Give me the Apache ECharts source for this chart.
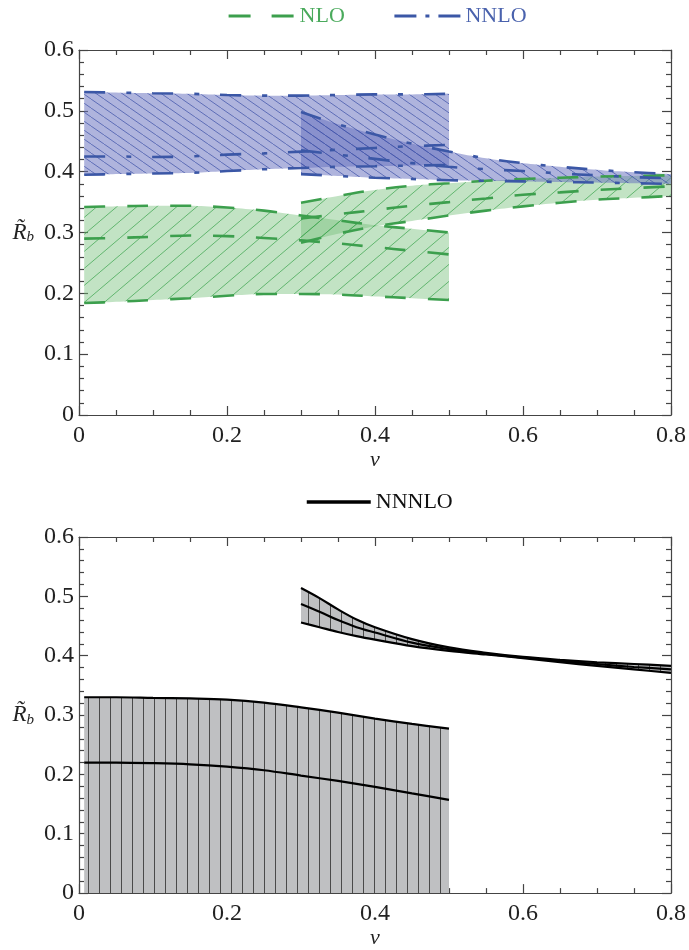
<!DOCTYPE html>
<html>
<head>
<meta charset="utf-8">
<script src="https://cdn.jsdelivr.net/npm/echarts@6/dist/echarts.min.js"></script>
<style>
  html, body { margin: 0; padding: 0; background: #fff; }
  #chart { width: 689px; height: 950px; }
</style>
</head>
<body>
<div id="chart"></div>
<script>
// ---- data ----
const xLow = [0.007, 0.05, 0.1, 0.15, 0.2, 0.25, 0.3, 0.35, 0.4, 0.45, 0.5];
const xHigh = [0.3, 0.35, 0.4, 0.45, 0.5, 0.55, 0.6, 0.65, 0.7, 0.75, 0.8];

// NLO, v < 0.5
const nloUp1 = [0.342, 0.343, 0.344, 0.344, 0.341, 0.336, 0.328, 0.320, 0.312, 0.306, 0.300];
const nloMid1 = [0.290, 0.291, 0.293, 0.295, 0.294, 0.291, 0.287, 0.282, 0.276, 0.270, 0.264];
const nloLo1 = [0.184, 0.186, 0.189, 0.192, 0.196, 0.199, 0.199, 0.198, 0.195, 0.192, 0.189];
// NLO, v > 0.3
const nloUp2 = [0.349, 0.360, 0.370, 0.377, 0.381, 0.385, 0.388, 0.390, 0.392, 0.393, 0.394];
const nloMid2 = [0.323, 0.330, 0.337, 0.344, 0.350, 0.356, 0.362, 0.366, 0.370, 0.373, 0.376];
const nloLo2 = [0.283, 0.298, 0.310, 0.319, 0.328, 0.336, 0.343, 0.349, 0.354, 0.357, 0.360];

// NNLO, v < 0.5
const nnloUp1 = [0.531, 0.530, 0.529, 0.528, 0.526, 0.525, 0.525, 0.526, 0.527, 0.527, 0.528];
const nnloMid1 = [0.425, 0.425, 0.424, 0.425, 0.428, 0.430, 0.433, 0.436, 0.439, 0.442, 0.444];
const nnloLo1 = [0.395, 0.396, 0.397, 0.398, 0.401, 0.404, 0.406, 0.408, 0.409, 0.410, 0.411];
// NNLO, v > 0.3
const nnloUp2 = [0.498, 0.478, 0.461, 0.446, 0.433, 0.422, 0.414, 0.408, 0.403, 0.399, 0.396];
const nnloMid2 = [0.435, 0.428, 0.421, 0.414, 0.408, 0.404, 0.401, 0.397, 0.394, 0.391, 0.389];
const nnloLo2 = [0.396, 0.393, 0.390, 0.388, 0.386, 0.385, 0.384, 0.383, 0.382, 0.381, 0.380];

// NNNLO, v < 0.5 (band reaches down to the axis)
const n3Up1 = [0.330, 0.330, 0.329, 0.328, 0.326, 0.321, 0.313, 0.304, 0.294, 0.285, 0.277];
const n3Mid1 = [0.220, 0.220, 0.219, 0.217, 0.213, 0.207, 0.198, 0.189, 0.179, 0.168, 0.157];
const n3Lo1 = [0, 0, 0, 0, 0, 0, 0, 0, 0, 0, 0];
// NNNLO, v > 0.3
const xN3 = [0.3, 0.325, 0.35, 0.375, 0.4, 0.45, 0.5, 0.55, 0.6, 0.65, 0.7, 0.75, 0.8];
const n3Up2 = [0.514, 0.497, 0.478, 0.461, 0.448, 0.428, 0.414, 0.405, 0.398, 0.393, 0.389, 0.386, 0.383];
const n3Mid2 = [0.487, 0.474, 0.460, 0.448, 0.439, 0.422, 0.411, 0.403, 0.397, 0.391, 0.386, 0.381, 0.377];
const n3Lo2 = [0.456, 0.448, 0.440, 0.433, 0.427, 0.416, 0.408, 0.402, 0.396, 0.389, 0.383, 0.377, 0.371];

// ---- styles ----
const FONT = 'Liberation Serif';
const GREEN = '#3c9f4d';
const BLUE = '#3b57a6';
const dashNLO = [21, 22];
const dashNNLO = [21, 21, 5, 21];
const SMOOTH = 0.35;

function pairs(xs, ys) {
  return xs.map((x, i) => [x, ys[i]]);
}

// hatch tile; dir 1 = '/', -1 = '\', 0 = '|'
function hatch(w, h, bg, lineColor, dir, lw) {
  const c = document.createElement('canvas');
  c.width = w; c.height = h;
  const g = c.getContext('2d');
  g.fillStyle = bg;
  g.fillRect(0, 0, w, h);
  g.strokeStyle = lineColor;
  g.lineWidth = lw;
  g.beginPath();
  if (dir === 0) {
    g.moveTo(0.5, 0); g.lineTo(0.5, h);
  } else {
    for (let k = -1; k <= 1; k++) {
      if (dir > 0) { g.moveTo(k * w, h); g.lineTo(k * w + w, 0); }
      else { g.moveTo(k * w, 0); g.lineTo(k * w + w, h); }
    }
  }
  g.stroke();
  return { image: c, repeat: 'repeat' };
}

const greenFill = hatch(20, 17, 'rgba(117,191,121,0.44)', 'rgba(50,160,70,0.85)', 1, 0.8);
const blueFill = hatch(13, 9, 'rgba(103,114,190,0.53)', 'rgba(55,75,165,0.85)', -1, 0.8);
const grayFill = hatch(11, 4, 'rgb(191,192,194)', '#4a4a4a', 0, 1);

// same kind of bezier smoothing the line series use, sampled in pixel space
function clamp(v, a, b) { return Math.max(Math.min(a, b), Math.min(v, Math.max(a, b))); }
function smoothPts(pts, s) {
  const out = [pts[0]];
  let cp0 = pts[0];
  for (let i = 1; i < pts.length; i++) {
    const p = pts[i], prev = pts[i - 1];
    let cp1 = p, nextCp0 = p;
    if (i < pts.length - 1) {
      const nx = pts[i + 1];
      const vx = nx[0] - prev[0], vy = nx[1] - prev[1];
      const d0 = Math.hypot(p[0] - prev[0], p[1] - prev[1]);
      const d1 = Math.hypot(nx[0] - p[0], nx[1] - p[1]);
      const r = d1 / (d0 + d1);
      cp1 = [clamp(p[0] - vx * s * (1 - r), prev[0], p[0]), clamp(p[1] - vy * s * (1 - r), prev[1], p[1])];
      nextCp0 = [clamp(p[0] + vx * s * r, p[0], nx[0]), clamp(p[1] + vy * s * r, p[1], nx[1])];
    }
    for (let t = 0.1; t <= 1.0001; t += 0.1) {
      const u = 1 - t;
      out.push([
        u * u * u * prev[0] + 3 * u * u * t * cp0[0] + 3 * u * t * t * cp1[0] + t * t * t * p[0],
        u * u * u * prev[1] + 3 * u * u * t * cp0[1] + 3 * u * t * t * cp1[1] + t * t * t * p[1]
      ]);
    }
    cp0 = nextCp0;
  }
  return out;
}

// band between lo and hi, drawn as one polygon through the axis scales
function band(gi, xs, lo, hi, fill) {
  return {
    type: 'custom', coordinateSystem: 'cartesian2d',
    xAxisIndex: gi * 2, yAxisIndex: gi * 2, silent: true, z: 1,
    data: pairs(xs, lo),
    renderItem: function (params, api) {
      if (params.dataIndex !== 0) return null;
      const top = smoothPts(xs.map((x, i) => api.coord([x, hi[i]])), SMOOTH);
      const bot = smoothPts(xs.map((x, i) => api.coord([x, lo[i]])), SMOOTH).reverse();
      return {
        type: 'polygon',
        shape: { points: top.concat(bot) },
        style: { fill: fill, stroke: null }
      };
    }
  };
}

function curve(name, gi, xs, ys, color, type, width) {
  return {
    type: 'line', name: name, xAxisIndex: gi * 2, yAxisIndex: gi * 2,
    data: pairs(xs, ys), symbol: 'none', smooth: SMOOTH, silent: true, z: 3,
    lineStyle: { color: color, type: type, width: width }
  };
}

// ---- axes ----
const labelStyle = { fontFamily: FONT, fontSize: 24, color: '#222' };
const lineCol = { color: '#444', width: 1.2 };

function xAxes(gi) {
  const base = {
    type: 'value', gridIndex: gi, min: 0, max: 0.8, interval: 0.2,
    axisLine: { show: true, onZero: false, lineStyle: lineCol },
    axisTick: { show: true, inside: true, length: 9, lineStyle: lineCol },
    minorTick: { show: true, splitNumber: 4, length: 5, lineStyle: lineCol },
    splitLine: { show: false }
  };
  return [
    Object.assign({}, base, {
      position: 'bottom',
      axisLabel: Object.assign({ margin: 9 }, labelStyle),
      name: 'v', nameLocation: 'middle', nameGap: 33,
      nameTextStyle: { fontFamily: FONT, fontSize: 22, fontStyle: 'italic', color: '#222' }
    }),
    Object.assign({}, base, { position: 'top', axisLabel: { show: false } })
  ];
}

function yAxes(gi) {
  const base = {
    type: 'value', gridIndex: gi, min: 0, max: 0.6, interval: 0.1,
    axisLine: { show: true, onZero: false, lineStyle: lineCol },
    axisTick: { show: true, inside: true, length: 9, lineStyle: lineCol },
    minorTick: { show: true, splitNumber: 5, length: 5, lineStyle: lineCol },
    splitLine: { show: false }
  };
  return [
    Object.assign({}, base, {
      position: 'left',
      axisLabel: Object.assign({ margin: 5 }, labelStyle),
      name: '{r|R\u0303}{s|b}', nameLocation: 'middle', nameRotate: 0, nameGap: 45,
      nameTextStyle: {
        rich: {
          r: { fontFamily: FONT, fontSize: 23, fontStyle: 'italic', color: '#222' },
          s: { fontFamily: FONT, fontSize: 15, fontStyle: 'italic', color: '#222', padding: [10, 0, 0, 0] }
        }
      }
    }),
    Object.assign({}, base, { position: 'right', axisLabel: { show: false } })
  ];
}

const series = [
  band(0, xLow, nloLo1, nloUp1, greenFill),
  band(0, xHigh, nloLo2, nloUp2, greenFill),
  band(0, xLow, nnloLo1, nnloUp1, blueFill),
  band(0, xHigh, nnloLo2, nnloUp2, blueFill),
  curve('NLO', 0, xLow, nloMid1, GREEN, dashNLO, 2.6),
  curve('NLO', 0, xLow, nloUp1, GREEN, dashNLO, 2.6),
  curve('NLO', 0, xLow, nloLo1, GREEN, dashNLO, 2.6),
  curve('NLO', 0, xHigh, nloMid2, GREEN, dashNLO, 2.6),
  curve('NLO', 0, xHigh, nloUp2, GREEN, dashNLO, 2.6),
  curve('NLO', 0, xHigh, nloLo2, GREEN, dashNLO, 2.6),
  curve('NNLO', 0, xLow, nnloMid1, BLUE, dashNNLO, 2.6),
  curve('NNLO', 0, xLow, nnloUp1, BLUE, dashNNLO, 2.6),
  curve('NNLO', 0, xLow, nnloLo1, BLUE, dashNNLO, 2.6),
  curve('NNLO', 0, xHigh, nnloMid2, BLUE, dashNNLO, 2.6),
  curve('NNLO', 0, xHigh, nnloUp2, BLUE, dashNNLO, 2.6),
  curve('NNLO', 0, xHigh, nnloLo2, BLUE, dashNNLO, 2.6),
  // lower panel
  band(1, xLow, n3Lo1, n3Up1, grayFill),
  band(1, xN3, n3Lo2, n3Up2, grayFill),
  curve('NNNLO', 1, xLow, n3Mid1, '#000', 'solid', 2.2),
  curve('NNNLO', 1, xLow, n3Up1, '#000', 'solid', 2.2),
  curve('NNNLO', 1, xN3, n3Mid2, '#000', 'solid', 2.2),
  curve('NNNLO', 1, xN3, n3Up2, '#000', 'solid', 2.2),
  curve('NNNLO', 1, xN3, n3Lo2, '#000', 'solid', 2.2)
];

const noSymbol = { color: 'rgba(0,0,0,0)', borderWidth: 0 };

const option = {
  animation: false,
  backgroundColor: '#fff',
  legend: [
    {
      left: 222, top: 0, itemWidth: 66, itemHeight: 14, itemGap: 48,
      textStyle: { fontFamily: FONT, fontSize: 22 },
      data: [
        { name: 'NLO', textStyle: { color: '#4aaa5c' }, itemStyle: noSymbol, lineStyle: { type: [22, 21], width: 3.2 } },
        { name: 'NNLO', textStyle: { color: '#4a62ad' }, itemStyle: noSymbol, lineStyle: { type: [22, 9, 4, 9], width: 3.2 } }
      ]
    },
    {
      left: 300, top: 486, itemWidth: 64, itemHeight: 14,
      textStyle: { fontFamily: FONT, fontSize: 22, color: '#111' },
      data: [{ name: 'NNNLO', itemStyle: noSymbol, lineStyle: { width: 3.5 } }]
    }
  ],
  grid: [
    { left: 79, right: 17, top: 50, height: 365 },
    { left: 79, right: 17, top: 537, height: 364 }
  ],
  xAxis: xAxes(0).concat(xAxes(1)),
  yAxis: yAxes(0).concat(yAxes(1)),
  series: series
};

const chart = echarts.init(document.getElementById('chart'), null, { renderer: 'canvas' });
chart.setOption(option);
</script>
</body>
</html>
